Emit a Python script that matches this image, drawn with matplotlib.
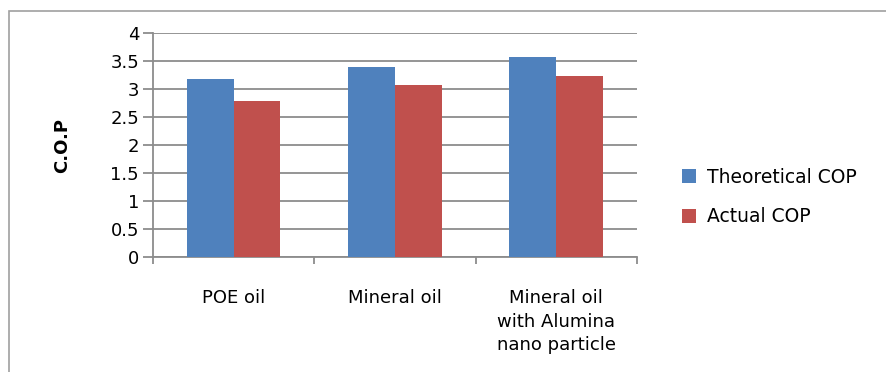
import matplotlib.pyplot as plt
import matplotlib.patches as mpatches
import numpy as np

categories = ['POE oil', 'Mineral oil', 'Mineral oil\nwith Alumina\nnano particle']
theoretical_cop = [3.18, 3.40, 3.57]
actual_cop = [2.79, 3.07, 3.24]
y_ticks = [0, 0.5, 1, 1.5, 2, 2.5, 3, 3.5, 4]

plt.rcParams['font.family'] = ['DejaVu Sans']

fig = plt.figure(figsize=(8.87, 3.72), dpi=100)
# chart-area frame
fig.patches.append(mpatches.Rectangle((9 / 887, -0.01), 1.0, 1 - 11 / 372 + 0.01,
                                      transform=fig.transFigure, fill=False,
                                      edgecolor='#a0a0a0', linewidth=1.2))
ax = fig.add_axes([0.1725, 0.309, 0.5455, 0.602])

x = np.arange(len(categories))
w = 0.29
ax.bar(x - w / 2, theoretical_cop, w, color='#4f81bd', label='Theoretical COP', zorder=3)
ax.bar(x + w / 2, actual_cop, w, color='#c0504d', label='Actual COP', zorder=3)

ax.set_xlim(-0.5, len(categories) - 0.5)
ax.set_ylim(0, 4)
ax.set_yticks(y_ticks)
ax.set_yticklabels([f'{t:g}' for t in y_ticks], fontsize=13)
ax.yaxis.grid(True, color='#8c8c8c', linewidth=1.3, zorder=0)
ax.set_axisbelow(True)

# category labels between boundary ticks
ax.set_xticks(np.arange(len(categories) + 1) - 0.5)
ax.set_xticklabels([])
ax.set_xticks(x, minor=True)
ax.set_xticklabels(categories, minor=True, fontsize=13, linespacing=1.4, va='top')
ax.tick_params(axis='x', which='minor', length=0, pad=23)
ax.tick_params(axis='x', which='major', length=5, color='#8c8c8c', width=1.3)
ax.tick_params(axis='y', length=7, color='#8c8c8c', width=1.3, pad=3)

for s in ['top', 'right']:
    ax.spines[s].set_visible(False)
for s in ['left', 'bottom']:
    ax.spines[s].set_color('#8c8c8c')
    ax.spines[s].set_linewidth(1.3)

ax.set_ylabel('C.O.P', fontsize=13, fontweight='bold', labelpad=28)

fig.legend(loc='center left', bbox_to_anchor=(0.75, 0.47), frameon=False,
           fontsize=13.5, handlelength=0.75, handleheight=0.75, handletextpad=0.6,
           labelspacing=1.1)

fig.savefig('out.png', dpi=100)
